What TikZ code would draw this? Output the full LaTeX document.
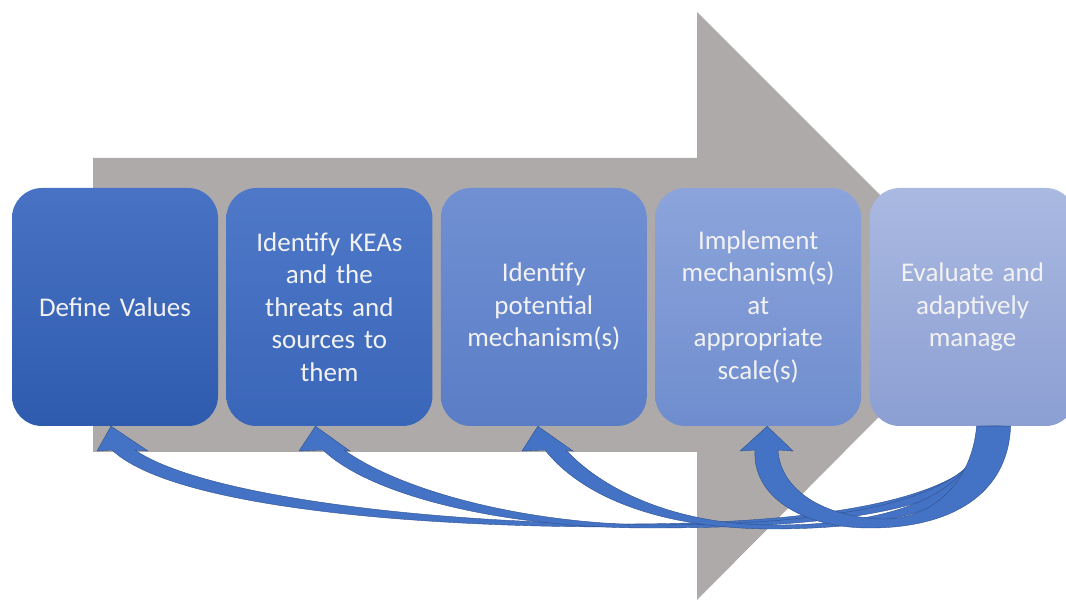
\documentclass[tikz,border=0pt]{standalone}
\usepackage{fontspec}
\setmainfont{Carlito}
\usetikzlibrary{positioning}

\definecolor{arrowgray}{HTML}{AEAAAA}
\definecolor{loopblue}{HTML}{4472C4}
\definecolor{loopedge}{HTML}{2F528F}
\definecolor{boxtext}{HTML}{F2F2F2}

\tikzset{
  stepbox/.style={rounded corners=30pt, minimum width=206pt, minimum height=238pt,
    text width=196pt, align=center, inner sep=0pt, text=boxtext,
    font=\fontsize{27}{32.5}\selectfont},
  loopback/.style={fill=loopblue, draw=loopedge, line width=0.4pt},
}

\begin{document}
\begin{tikzpicture}[x=1pt,y=-1pt,node distance=8pt]
    \useasboundingbox (0,0) rectangle (1066,601);

    % big grey process arrow
    \fill[arrowgray] (93,158) -- (697,158) -- (697,12) -- (990,305) -- (697,600)
        -- (697,452) -- (93,452) -- cycle;

    % the steps
    \node[stepbox, top color={rgb,255:red,72;green,115;blue,196}, bottom color={rgb,255:red,47;green,91;blue,175}]
        (values) at (115,307) {Define Values};
    \node[stepbox, right=of values, top color={rgb,255:red,79;green,120;blue,200}, bottom color={rgb,255:red,58;green,102;blue,185}]
        (keas) {Identify KEAs\\and the\\threats and\\sources to\\them};
    \node[stepbox, right=of keas, top color={rgb,255:red,113;green,144;blue,211}, bottom color={rgb,255:red,90;green,125;blue,198}]
        (potential) {Identify\\potential\\mechanism(s)};
    \node[stepbox, right=of potential, top color={rgb,255:red,140;green,164;blue,219}, bottom color={rgb,255:red,111;green,141;blue,206}]
        (implement) {Implement\\mechanism(s)\\at\\appropriate\\scale(s)};
    \node[stepbox, right=of implement, top color={rgb,255:red,170;green,185;blue,225}, bottom color={rgb,255:red,140;green,159;blue,211}]
        (evaluate) {Evaluate and\\adaptively\\manage};

    % feedback arrows from the last step
    \fill[loopback] ([xshift=-4pt]values.south) -- (148,451) -- (135,450)
        .. controls (200,495) and (420,522) .. (620,524)
        .. controls (840,524) and (990,495) .. ([xshift=20pt]evaluate.south)
        -- ([xshift=33pt]evaluate.south)
        .. controls (1003,500) and (850,528) .. (620,527)
        .. controls (400,527) and (170,505) .. (112,450) -- (97,451) -- cycle;
    \fill[loopback] ([xshift=-14pt]keas.south) -- (350,451) -- (344,450)
        .. controls (400,490) and (520,523) .. (650,525)
        .. controls (860,525) and (984,495) .. ([xshift=14pt]evaluate.south)
        -- ([xshift=29pt]evaluate.south)
        .. controls (999,502) and (870,528) .. (650,528)
        .. controls (500,528) and (370,495) .. (323,450) -- (299,451) -- cycle;
    \fill[loopback] ([xshift=-6pt]potential.south) -- (573,451) -- (566,450)
        .. controls (600,487) and (670,524) .. (770,525)
        .. controls (890,526) and (978,495) .. ([xshift=8pt]evaluate.south)
        -- ([xshift=25pt]evaluate.south)
        .. controls (995,505) and (900,529) .. (770,529)
        .. controls (650,528) and (578,492) .. (545,450) -- (522,451) -- cycle;
    \fill[loopback] ([xshift=9pt]implement.south) -- (793,451) -- (778,450)
        .. controls (780,488) and (820,516) .. (880,519)
        .. controls (935,520) and (972,480) .. ([xshift=4pt]evaluate.south)
        -- ([xshift=38pt]evaluate.south)
        .. controls (1008,495) and (950,528) .. (870,528)
        .. controls (800,528) and (752,495) .. (755,450) -- (740,451) -- cycle;
\end{tikzpicture}
\end{document}
